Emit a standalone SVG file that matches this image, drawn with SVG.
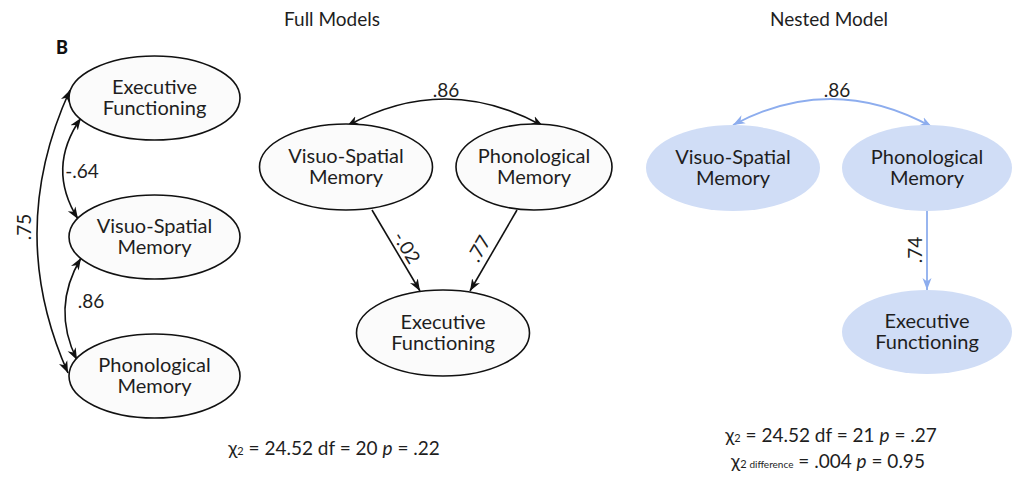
<svg xmlns="http://www.w3.org/2000/svg" width="1015" height="477" viewBox="0 0 1015 477">
  <style>
    text { font-family: Lato, "Open Sans", "Liberation Sans", sans-serif; fill: #1e1e1e; }
    .lbl { font-size: 20px; text-anchor: middle; }
    .num { font-size: 19px; text-anchor: middle; }
    .title { font-size: 19px; text-anchor: middle; }
    .stat { font-size: 19px; text-anchor: middle; }
    .panel { font-size: 18px; font-weight: 900; fill: #111; }
    .small { font-size: 11px; }
    .tiny { font-size: 10px; }
    .node { fill: #fbfbfb; stroke: #111; stroke-width: 1.6; }
    .node-b { fill: #d0ddf6; stroke: none; }
    .edge { fill: none; stroke: #111; stroke-width: 1.6; }
    .edge-b { fill: none; stroke: #8dadee; stroke-width: 1.8; }
  </style>
  <defs>
    <marker id="arr" viewBox="0 0 12 10" refX="12" refY="5" markerWidth="12" markerHeight="10" markerUnits="userSpaceOnUse" orient="auto-start-reverse">
      <path d="M0,0.5 L12,5 L0,9.5 L3.5,5 z" fill="#111"/>
    </marker>
    <marker id="arr-b" viewBox="0 0 12 10" refX="12" refY="5" markerWidth="12" markerHeight="10" markerUnits="userSpaceOnUse" orient="auto-start-reverse">
      <path d="M0,0.5 L12,5 L0,9.5 L3.5,5 z" fill="#8dadee"/>
    </marker>
  </defs>

  <rect width="1015" height="477" fill="#ffffff"/>

  <!-- panel letter and headings -->
  <text class="panel" x="56" y="54">B</text>
  <text class="title" x="332" y="26">Full Models</text>
  <text class="title" x="829" y="26">Nested Model</text>

  <!-- connectors -->
  <g id="connectors">
    <!-- correlation model (left) -->
    <path class="edge" d="M81,118 Q46,168 78,219" marker-start="url(#arr)" marker-end="url(#arr)"/>
    <path class="edge" d="M81,258 Q51,308 77,360" marker-start="url(#arr)" marker-end="url(#arr)"/>
    <path class="edge" d="M70,90 Q5,232 68,373" marker-start="url(#arr)" marker-end="url(#arr)"/>
    <text class="num" x="82" y="178">-.64</text>
    <text class="num" x="91" y="308">.86</text>
    <text class="num" transform="translate(31,227) rotate(-90)">.75</text>

    <!-- full model (middle) -->
    <path class="edge" d="M347,126 Q445,72 543,126" marker-start="url(#arr)" marker-end="url(#arr)"/>
    <path class="edge" d="M372,210 L420,291" marker-end="url(#arr)"/>
    <path class="edge" d="M517,210 L470,291" marker-end="url(#arr)"/>
    <text class="num" x="446" y="97">.86</text>
    <text class="num" transform="translate(401,251) rotate(59)">-.02</text>
    <text class="num" transform="translate(485,252) rotate(-60)">.77</text>

    <!-- nested model (right) -->
    <path class="edge-b" d="M733,125 Q832,72 932,127" marker-start="url(#arr-b)" marker-end="url(#arr-b)"/>
    <path class="edge-b" d="M927,211 L927,290" marker-end="url(#arr-b)"/>
    <text class="num" x="837" y="97">.86</text>
    <text class="num" transform="translate(922,250) rotate(-90)">.74</text>
  </g>

  <!-- correlation model nodes -->
  <g id="l-exec">
    <ellipse class="node" cx="154.5" cy="98" rx="85.5" ry="42"/>
    <text class="lbl"><tspan x="154.5" y="93.5">Executive</tspan><tspan x="154.5" dy="21">Functioning</tspan></text>
  </g>
  <g id="l-visuo">
    <ellipse class="node" cx="154.5" cy="237" rx="85.5" ry="42"/>
    <text class="lbl"><tspan x="154.5" y="232.5">Visuo-Spatial</tspan><tspan x="154.5" dy="21">Memory</tspan></text>
  </g>
  <g id="l-phono">
    <ellipse class="node" cx="154.5" cy="376" rx="85.5" ry="42"/>
    <text class="lbl"><tspan x="154.5" y="371.5">Phonological</tspan><tspan x="154.5" dy="21">Memory</tspan></text>
  </g>

  <!-- full model nodes -->
  <g id="f-visuo">
    <ellipse class="node" cx="346" cy="167" rx="86.5" ry="43"/>
    <text class="lbl"><tspan x="346" y="162.5">Visuo-Spatial</tspan><tspan x="346" dy="21">Memory</tspan></text>
  </g>
  <g id="f-phono">
    <ellipse class="node" cx="534" cy="167" rx="78" ry="43"/>
    <text class="lbl"><tspan x="534" y="162.5">Phonological</tspan><tspan x="534" dy="21">Memory</tspan></text>
  </g>
  <g id="f-exec">
    <ellipse class="node" cx="443" cy="333" rx="86.5" ry="43"/>
    <text class="lbl"><tspan x="443" y="328.5">Executive</tspan><tspan x="443" dy="21">Functioning</tspan></text>
  </g>

  <!-- nested model nodes -->
  <g id="n-visuo">
    <ellipse class="node-b" cx="733" cy="168" rx="87" ry="43"/>
    <text class="lbl"><tspan x="733" y="163.5">Visuo-Spatial</tspan><tspan x="733" dy="21">Memory</tspan></text>
  </g>
  <g id="n-phono">
    <ellipse class="node-b" cx="927" cy="168" rx="85" ry="43"/>
    <text class="lbl"><tspan x="927" y="163.5">Phonological</tspan><tspan x="927" dy="21">Memory</tspan></text>
  </g>
  <g id="n-exec">
    <ellipse class="node-b" cx="927" cy="332" rx="85" ry="42"/>
    <text class="lbl"><tspan x="927" y="327.5">Executive</tspan><tspan x="927" dy="21">Functioning</tspan></text>
  </g>

  <!-- fit statistics -->
  <text class="stat" x="334" y="455">χ<tspan class="small">2</tspan> = 24.52 df = 20 <tspan font-style="italic">p</tspan> = .22</text>
  <text class="stat" x="831" y="442">χ<tspan class="small">2</tspan> = 24.52 df = 21 <tspan font-style="italic">p</tspan> = .27</text>
  <text class="stat" x="828" y="468">χ<tspan class="small">2 </tspan><tspan class="tiny">difference</tspan> = .004 <tspan font-style="italic">p</tspan> = 0.95</text>
</svg>
